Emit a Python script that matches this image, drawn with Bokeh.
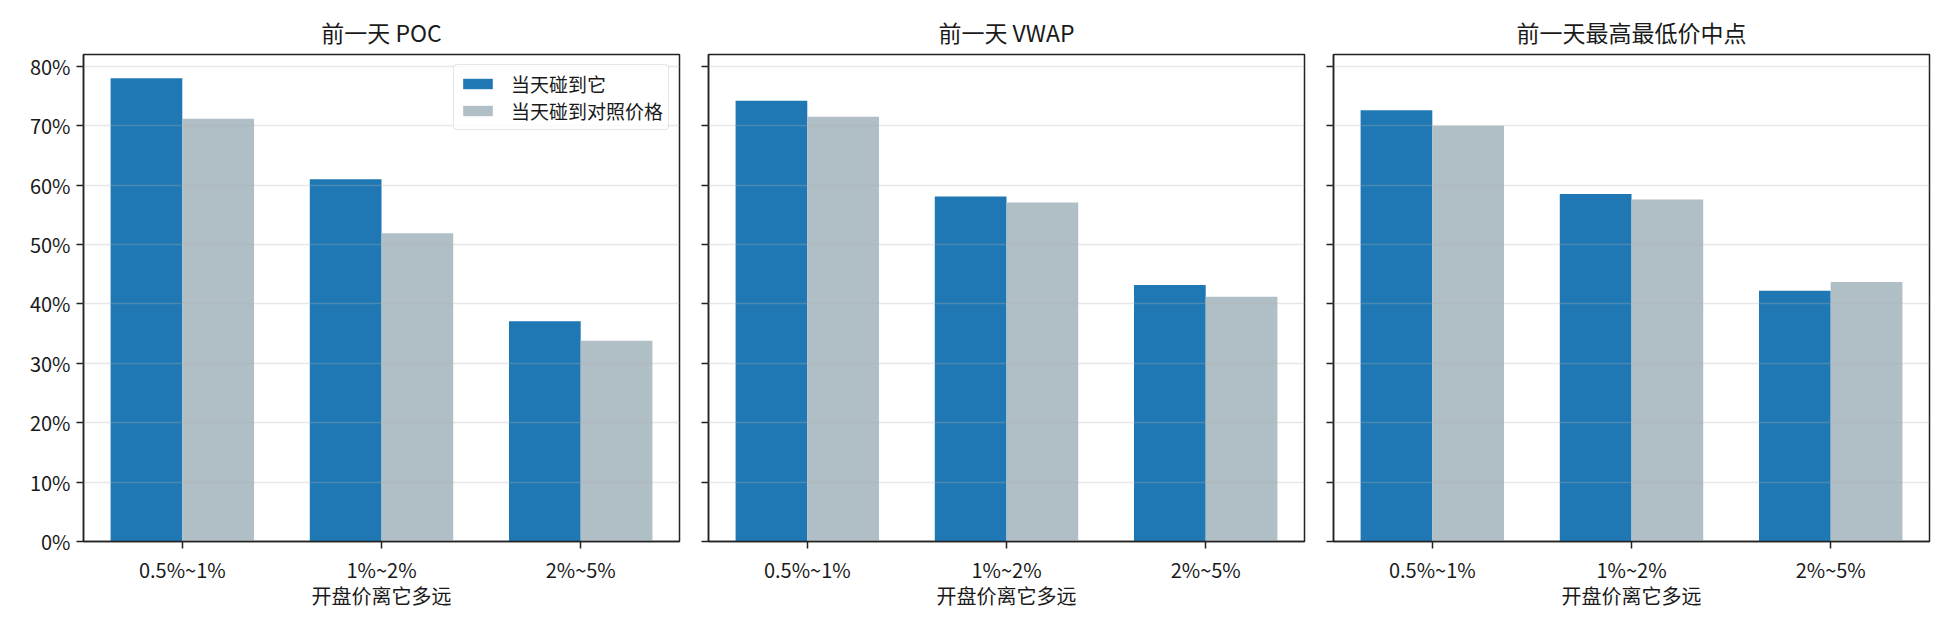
import numpy as np
from bokeh.plotting import figure
from bokeh.models import (ColumnDataSource, Range1d, FixedTicker, NumeralTickFormatter,
                          CustomJSTickFormatter, Legend)
from bokeh.transform import dodge
from bokeh.layouts import row
from bokeh.embed import file_html
from bokeh.resources import INLINE

# data

categories = ['0.5%~1%', '1%~2%', '2%~5%']
titles = ['前一天 POC', '前一天 VWAP', '前一天最高最低价中点']

poc_hit = [0.780, 0.610, 0.371]
poc_ref = [0.712, 0.519, 0.338]
vwap_hit = [0.742, 0.581, 0.432]
vwap_ref = [0.715, 0.571, 0.412]
mid_hit = [0.726, 0.585, 0.422]
mid_ref = [0.700, 0.576, 0.437]

series_names = ['当天碰到它', '当天碰到对照价格']
y_ticks = [0, 0.1, 0.2, 0.3, 0.4, 0.5, 0.6, 0.7, 0.8]

FONT = "Noto Sans CJK SC"
BLUE = "#1f77b4"
GREY = "#b0bec5"
BAR_W = 0.36


def make_panel(title, hit, ref, first, y_range):
    p = figure(title=title, x_range=Range1d(-0.496, 2.496), y_range=y_range,
               frame_width=596, frame_height=487,
               min_border_left=83 if first else 15, min_border_right=14,
               min_border_top=54, min_border_bottom=70,
               output_backend="svg", toolbar_location=None)

    source = ColumnDataSource({'x': [0, 1, 2], 'hit': hit, 'ref': ref})

    r1 = p.vbar(x=dodge('x', -BAR_W / 2, range=p.x_range), top='hit', width=BAR_W,
                source=source, fill_color=BLUE, line_color=None)
    r2 = p.vbar(x=dodge('x', BAR_W / 2, range=p.x_range), top='ref', width=BAR_W,
                source=source, fill_color=GREY, line_color=None)

    p.title.text_font = FONT
    p.title.text_font_size = "23px"
    p.title.text_font_style = "normal"
    p.title.text_color = "#1a1a1a"
    p.title.align = "center"
    p.title.standoff = 11

    p.outline_line_color = "#222222"
    p.outline_line_width = 1.5
    p.outline_line_alpha = 1.0

    p.xgrid.visible = False
    p.ygrid.grid_line_color = "#b0b0b0"
    p.ygrid.grid_line_alpha = 0.3
    p.ygrid.grid_line_width = 1.5
    p.ygrid.level = "guide"

    p.xaxis.ticker = FixedTicker(ticks=[0, 1, 2])
    p.xaxis.major_label_overrides = {i: c for i, c in enumerate(categories)}
    p.xaxis.axis_label = "开盘价离它多远"
    p.xaxis.axis_label_text_font = FONT
    p.xaxis.axis_label_text_font_size = "20px"
    p.xaxis.axis_label_text_font_style = "normal"
    p.xaxis.axis_label_text_color = "#1a1a1a"
    p.xaxis.axis_label_standoff = -6

    p.yaxis.ticker = FixedTicker(ticks=y_ticks)
    if first:
        p.yaxis.formatter = NumeralTickFormatter(format="0%")
    else:
        p.yaxis.formatter = CustomJSTickFormatter(code="return ''")

    for ax in [p.xaxis[0], p.yaxis[0]]:
        ax.axis_line_color = "#222222"
        ax.axis_line_width = 1.5
        ax.major_tick_line_color = "#222222"
        ax.major_tick_line_width = 1.5
        ax.major_tick_out = 7
        ax.major_tick_in = 0
        ax.minor_tick_line_color = None
        ax.major_label_text_font = FONT
        ax.major_label_text_font_size = "20px"
        ax.major_label_text_color = "#1a1a1a"
        ax.major_label_standoff = 6

    if first:
        legend = Legend(items=[(series_names[0], [r1]), (series_names[1], [r2])],
                        location="top_right")
        legend.label_text_font = FONT
        legend.label_text_font_size = "19px"
        legend.label_text_color = "#1a1a1a"
        legend.glyph_width = 37
        legend.glyph_height = 13
        legend.label_height = 18
        legend.label_standoff = 15
        legend.spacing = 0
        legend.padding = 5
        legend.margin = 10
        legend.border_line_color = "#cccccc"
        legend.border_line_width = 1.5
        legend.border_radius = 4
        legend.background_fill_alpha = 0.8
        p.add_layout(legend, "center")

    return p


def main():
    y_range = Range1d(0, 0.82)

    p1 = make_panel(titles[0], poc_hit, poc_ref, True, y_range)
    p2 = make_panel(titles[1], vwap_hit, vwap_ref, False, y_range)
    p3 = make_panel(titles[2], mid_hit, mid_ref, False, y_range)
    p3.min_border_right = 13

    layout = row(p1, p2, p3)

    open("out.html", "w").write(file_html(layout, INLINE))


if __name__ == "__main__":
    main()
